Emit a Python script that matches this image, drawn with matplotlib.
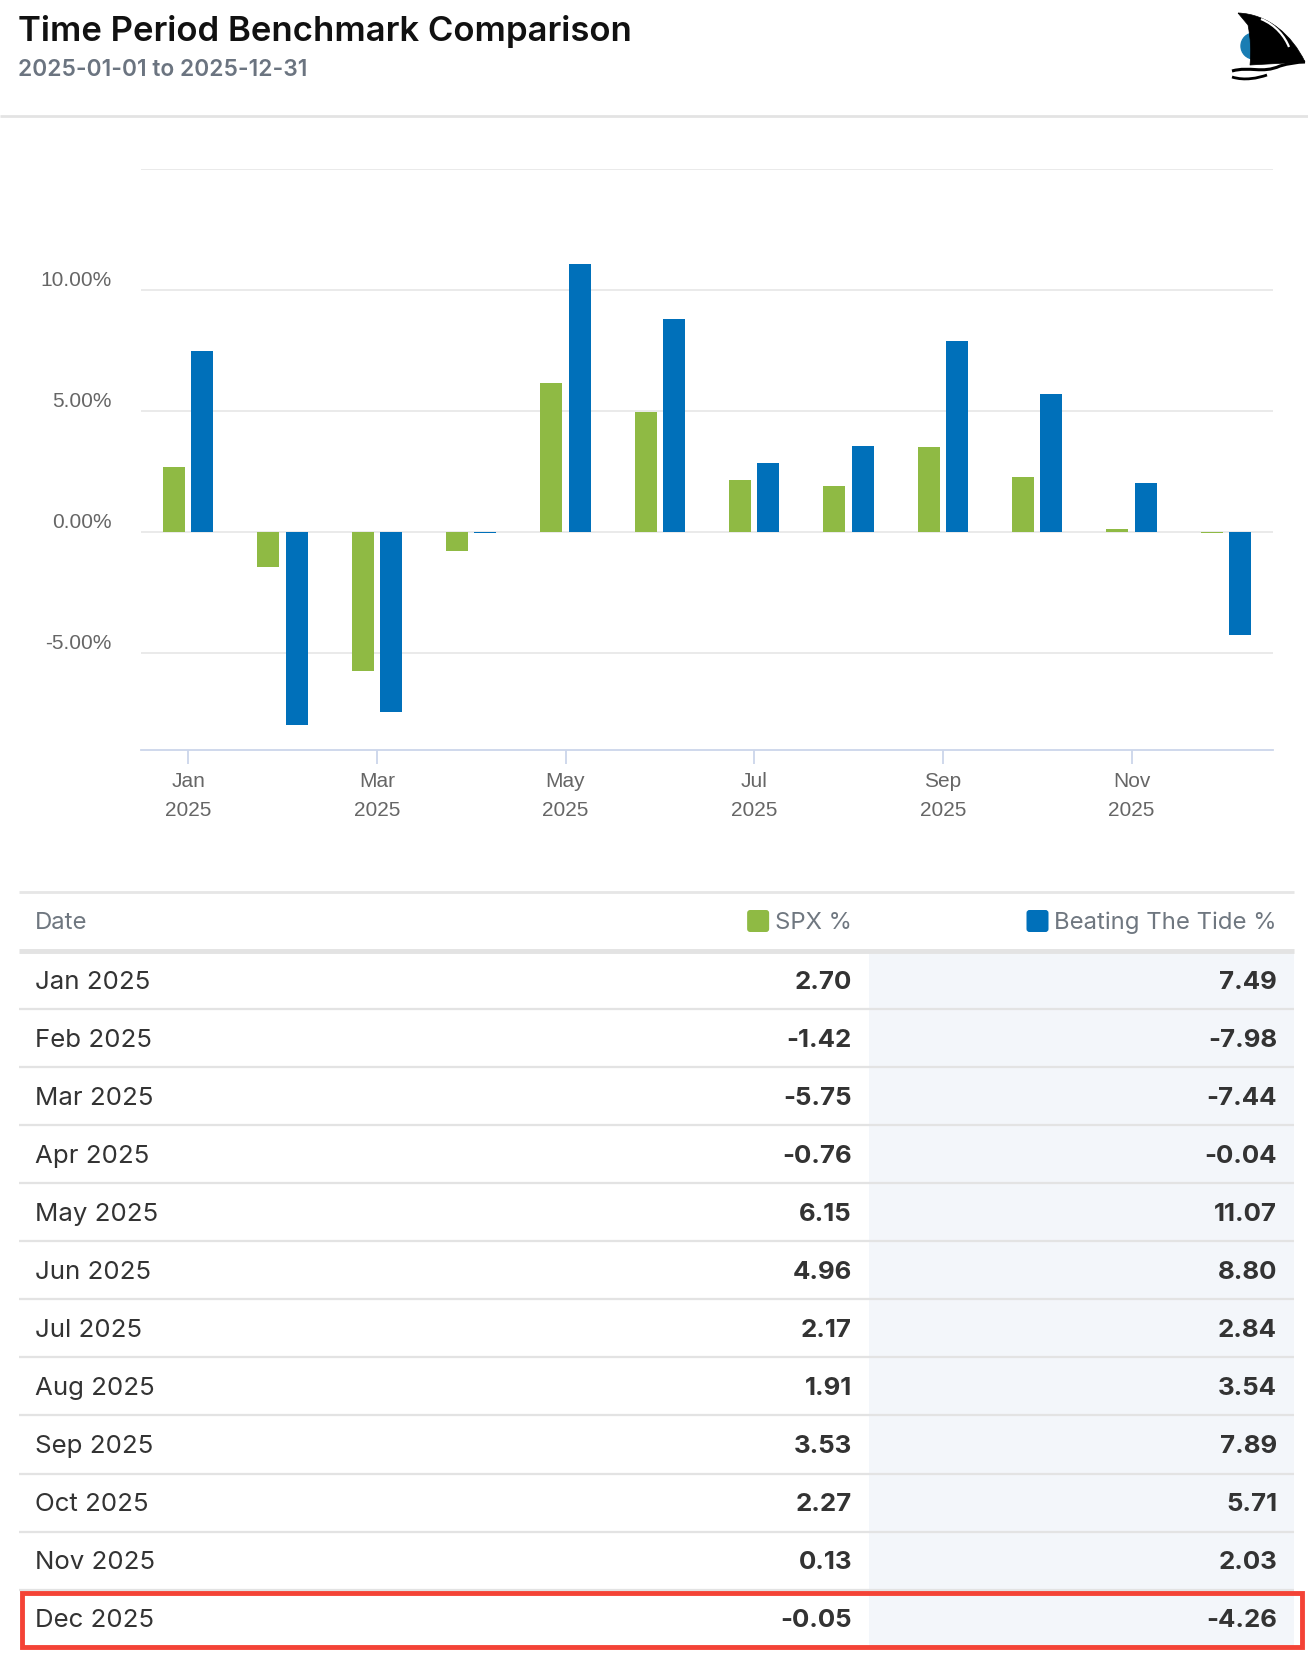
import matplotlib
matplotlib.use("Agg")
import matplotlib.pyplot as plt
from matplotlib.patches import Rectangle, PathPatch, Circle, FancyBboxPatch
from matplotlib.path import Path
from matplotlib.transforms import ScaledTranslation
import numpy as np

# ---------------- data ----------------
months = ["Jan 2025", "Feb 2025", "Mar 2025", "Apr 2025", "May 2025", "Jun 2025",
          "Jul 2025", "Aug 2025", "Sep 2025", "Oct 2025", "Nov 2025", "Dec 2025"]
spx = [2.70, -1.42, -5.75, -0.76, 6.15, 4.96, 2.17, 1.91, 3.53, 2.27, 0.13, -0.05]
btt = [7.49, -7.98, -7.44, -0.04, 11.07, 8.80, 2.84, 3.54, 7.89, 5.71, 2.03, -4.26]
xtick_labels = ["Jan\n2025", "Mar\n2025", "May\n2025", "Jul\n2025", "Sep\n2025", "Nov\n2025"]
ytick_vals = [-5, 0, 5, 10]
ytick_labels = ["-5.00%", "0.00%", "5.00%", "10.00%"]
title = "Time Period Benchmark Comparison"
subtitle = "2025-01-01 to 2025-12-31"
series_names = ["SPX %", "Beating The Tide %"]

GREEN = "#8fba44"
BLUE = "#0070ba"
W, H = 1308, 1668

fig = plt.figure(figsize=(W / 100, H / 100), dpi=100)
fig.patch.set_facecolor("white")

bg = fig.add_axes([0, 0, 1, 1])
bg.set_xlim(0, W)
bg.set_ylim(H, 0)
bg.axis("off")

TF = "Inter"
# header
bg.text(18, 31, title, fontsize=25, fontweight="semibold", family=TF, color="#111111",
        va="center", ha="left")
bg.text(18, 70, subtitle, fontsize=16.4, fontweight="semibold", family=TF, color="#6b7480",
        va="center", ha="left")
bg.plot([0, W], [116, 116], color="#e3e3e3", lw=2, solid_capstyle="butt")

# logo (shark fin)
bg.add_patch(Circle((1254, 46), 13, color="#1a7db3", zorder=2))
fin = Path([(1238, 13), (1268, 14), (1292, 35), (1305, 62),
            (1287, 63), (1268, 64), (1250, 65),
            (1252, 45), (1248, 25), (1238, 13)],
           [Path.MOVETO, Path.CURVE4, Path.CURVE4, Path.CURVE4,
            Path.LINETO, Path.LINETO, Path.LINETO,
            Path.CURVE3, Path.CURVE3, Path.LINETO])
bg.add_patch(PathPatch(fin, facecolor="black", edgecolor="black", lw=0.5, zorder=3))
hl = Path([(1261, 19), (1276, 25), (1285, 37), (1289, 47)],
          [Path.MOVETO, Path.CURVE4, Path.CURVE4, Path.CURVE4])
bg.add_patch(PathPatch(hl, facecolor="none", edgecolor="white", lw=1.6, zorder=4))
w1 = Path([(1232, 71), (1250, 66), (1262, 74), (1280, 66), (1293, 62), (1305, 62)],
          [Path.MOVETO, Path.CURVE4, Path.CURVE4, Path.CURVE4, Path.CURVE3, Path.CURVE3])
bg.add_patch(PathPatch(w1, facecolor="none", edgecolor="black", lw=2.2, zorder=4))
w2 = Path([(1232, 77), (1245, 81), (1258, 78), (1267, 75)],
          [Path.MOVETO, Path.CURVE4, Path.CURVE4, Path.CURVE4])
bg.add_patch(PathPatch(w2, facecolor="none", edgecolor="black", lw=2.0, zorder=4))

# ---------------- chart ----------------
px_left, px_right = 141, 1273
px_top, px_bot = 169, 750
ax = fig.add_axes([px_left / W, 1 - px_bot / H, (px_right - px_left) / W, (px_bot - px_top) / H])
ax.set_facecolor("none")
x = np.arange(len(months))
bw = 0.234
off = 0.149
ax.bar(x - off, spx, width=bw, color=GREEN, zorder=3)
ax.bar(x + off, btt, width=bw, color=BLUE, zorder=3)
ax.set_xlim(-0.5, 11.5)
ax.set_ylim(-9, 15)
for s in ["top", "left", "right"]:
    ax.spines[s].set_visible(False)
ax.spines["bottom"].set_color("#ccd6eb")
ax.spines["bottom"].set_linewidth(1.3)
for g in [-5, 0, 5, 10, 15]:
    ax.axhline(g, color="#e6e6e6", lw=1.2, zorder=1)
ax.set_yticks(ytick_vals)
ax.set_yticklabels(ytick_labels, fontsize=15, color="#666666", family="Liberation Sans")
ax.tick_params(axis="y", length=0, pad=21)
for lab in ax.get_yticklabels():
    lab.set_transform(lab.get_transform() + ScaledTranslation(0, 0.12, fig.dpi_scale_trans))
ax.set_xticks(x[::2])
ax.set_xticklabels(xtick_labels, fontsize=15, color="#666666", family="Liberation Sans",
                   linespacing=1.65)
ax.tick_params(axis="x", length=10, width=1.3, color="#ccd6eb", pad=6)

# ---------------- table ----------------
tl, tr = 19, 1294
bg.plot([tl, tr], [892, 892], color="#e6e6e6", lw=2, solid_capstyle="butt")
head_y = 923
bg.text(35, head_y, "Date", fontsize=17.2, family=TF, color="#6f7780", va="center", ha="left")
t1 = bg.text(852, head_y, series_names[0], fontsize=17.2, family=TF, color="#6f7780",
             va="center", ha="right")
t2 = bg.text(1277, head_y, series_names[1], fontsize=17.2, family=TF, color="#6f7780",
             va="center", ha="right")
fig.canvas.draw()
r = fig.canvas.get_renderer()
for t, c in [(t1, GREEN), (t2, BLUE)]:
    bb = t.get_window_extent(r)
    x0 = bb.x0
    bg.add_patch(FancyBboxPatch((x0 - 28, 921 - 11), 22, 22,
                                boxstyle="round,pad=0,rounding_size=3",
                                facecolor=c, edgecolor="none"))

hdr_line = 951
row_h = 58.06
n = len(months)
bg.add_patch(Rectangle((869, hdr_line), tr - 869, row_h * n, facecolor="#f3f6fa",
                       edgecolor="none", zorder=0))
bg.plot([tl, tr], [hdr_line, hdr_line], color="#e3e3e3", lw=3.5, solid_capstyle="butt")
for i, (m, a, b) in enumerate(zip(months, spx, btt)):
    cy = hdr_line + row_h * (i + 0.5) + 2
    bg.text(35, cy, m, fontsize=18.6, family=TF, color="#333333", va="center", ha="left")
    bg.text(852, cy, f"{a:.2f}", fontsize=18.6, family=TF, fontweight="bold",
            color="#333333", va="center", ha="right")
    bg.text(1277, cy, f"{b:.2f}", fontsize=18.6, family=TF, fontweight="bold",
            color="#333333", va="center", ha="right")
    if i < n - 1:
        bg.plot([tl, tr], [hdr_line + row_h * (i + 1)] * 2, color="#e3e3e3", lw=1.6,
                solid_capstyle="butt")

bg.add_patch(Rectangle((22, 1593), 1280, 54, facecolor="none", edgecolor="#f44336",
                       lw=3.5, zorder=5))

fig.savefig("out.png", dpi=100, facecolor="white")
